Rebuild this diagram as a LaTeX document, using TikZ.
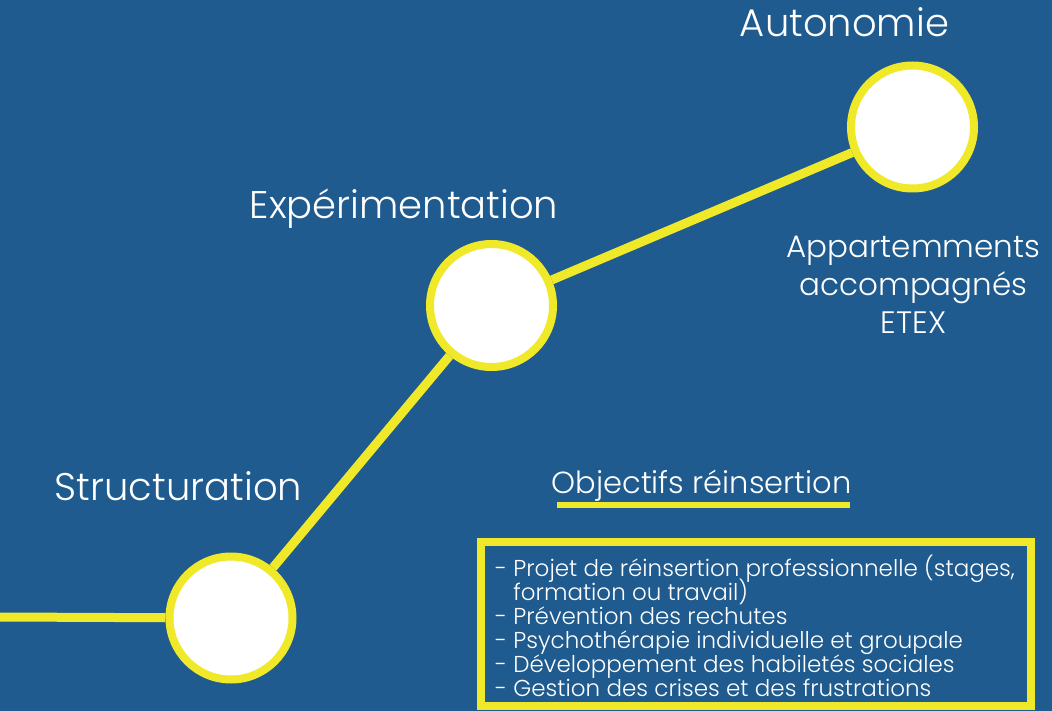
\documentclass[tikz,border=0pt]{standalone}
\usepackage{fontspec}
\setmainfont{Poppins Light}
\definecolor{bg}{RGB}{31,91,142}
\definecolor{yel}{RGB}{240,233,42}
\newcommand\mytightlines{\setlength{\lineskiplimit}{-30pt}\setlength{\lineskip}{0pt}}
\tikzset{
  stage/.style={circle,draw=yel,line width=8pt,fill=white,minimum size=123pt,inner sep=0pt},
  link/.style={draw=yel,line width=9pt},
  title/.style={text=white,font=\fontsize{38.5}{40}\selectfont,inner sep=0pt,anchor=base},
  sub/.style={text=white,font=\fontsize{31}{38}\selectfont,inner sep=0pt,align=center},
}
\begin{document}
\begin{tikzpicture}[x=1pt,y=-1pt]
\fill[bg] (0,0) rectangle (1052,711);
\useasboundingbox (0,0) rectangle (1052,711);
\coordinate (start) at (0,617);
\node[stage] (c1) at (231,618) {};
\node[stage] (c2) at (491.5,305.5) {};
\node[stage] (c3) at (912.5,127) {};
\draw[link] (start) -- (c1);
\draw[link] (c1) -- (c2);
\draw[link] (c2) -- (c3);
\node[title] (t3) at (844.5,37) {Autonomie};
\node[title] (t2) at (404,219) {Expérimentation};
\node[title] (t1) at (178.5,500) {Structuration};
\node[sub] (app) at (913.5,285) {Appartemments\\accompagnés\\ETEX};
\node[sub,anchor=base,font=\fontsize{30.5}{32}\selectfont] (obj) at (701.5,493) {Objectifs réinsertion};
\coordinate (ul1) at (557,505);
\coordinate (ul2) at (850,505);
\draw[yel,line width=6pt] (ul1) -- (ul2);
\node[draw=yel,line width=8pt,minimum width=550pt,minimum height=164pt,inner sep=0pt] (box) at (756,624) {};
\node[anchor=north west,text=white,align=left,inner sep=0pt,font=\fontsize{23}{24}\selectfont\mytightlines] (list) at (495,555) {- Projet de réinsertion professionnelle (stages,\\\phantom{- }formation ou travail)\\- Prévention des rechutes\\- Psychothérapie individuelle et groupale\\- Développement des habiletés sociales\\- Gestion des crises et des frustrations};
\end{tikzpicture}
\end{document}
